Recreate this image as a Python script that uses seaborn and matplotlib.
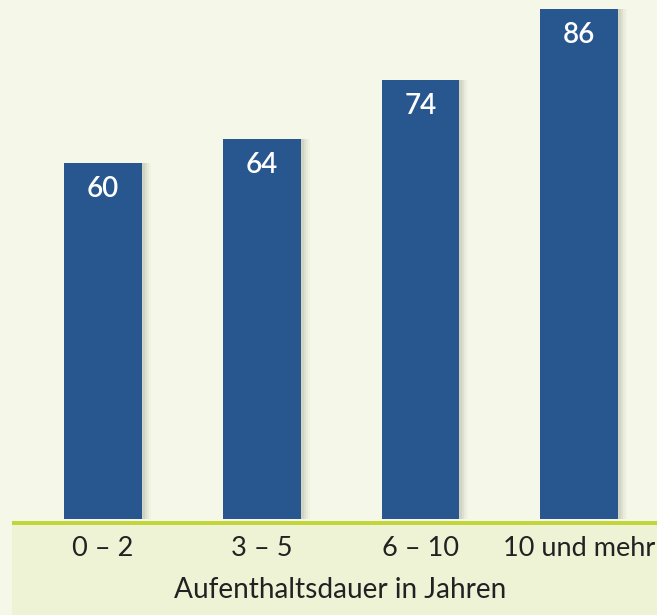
import matplotlib
matplotlib.use("Agg")
import matplotlib.pyplot as plt
import seaborn as sns
import pandas as pd
from matplotlib.patches import Rectangle

categories = ["0 – 2", "3 – 5", "6 – 10", "10 und mehr"]
values = [60, 64, 74, 86]
xlabel = "Aufenthaltsdauer in Jahren"

BG = "#f5f7e9"
BAND = "#eef3d6"
LINE = "#c2d63a"
BAR = "#28578f"

sns.set_theme(style="white")
plt.rcParams["font.family"] = ["Lato", "DejaVu Sans"]

W, H = 657, 615
fig = plt.figure(figsize=(W / 100, H / 100), dpi=100, facecolor=BG)

# bottom band and green line
fig.patches.append(Rectangle((12 / W, 0), 1 - 12 / W, (H - 521) / H,
                             transform=fig.transFigure, facecolor=BAND,
                             edgecolor="none", zorder=0))
fig.patches.append(Rectangle((12 / W, (H - 525) / H), 1 - 12 / W, 4 / H,
                             transform=fig.transFigure, facecolor=LINE,
                             edgecolor="none", zorder=1))

ax = fig.add_axes([0, (H - 519) / H, 1, 519 / H])
ax.set_facecolor("none")
df = pd.DataFrame({"cat": categories, "val": values})

# soft shadow layers
xs = range(len(categories))
for off, a in [(9, 0.03), (7, 0.05), (5, 0.07), (3, 0.09)]:
    ax.bar([x + off / 158.7 for x in xs], values, width=0.49, color="#5a5e45",
           alpha=a, zorder=1, linewidth=0)

sns.barplot(data=df, x="cat", y="val", color=BAR, saturation=1, width=0.49,
            ax=ax, zorder=2, linewidth=0)

ax.set_xlim(-0.649, 3.491)
ax.set_ylim(0, 87.5)
ax.axis("off")

for i, v in enumerate(values):
    ax.annotate(str(v), (i, v), xytext=(0, -18.5), textcoords="offset points",
                ha="center", va="center", color="white", fontsize=20,
                fontweight="semibold", zorder=3)

# tick labels and axis title drawn in figure coords below the axes
for i, c in enumerate(categories):
    xd = ax.transData.transform((i, 0))[0]
    fig.text(xd / W, 1 - 548 / H, c, ha="center", va="center",
             fontsize=19.5, color="#222222")
fig.text(340 / W, 1 - 590 / H, xlabel, ha="center", va="center",
         fontsize=20.2, color="#222222")

fig.savefig("out.png", dpi=100, facecolor=BG)
